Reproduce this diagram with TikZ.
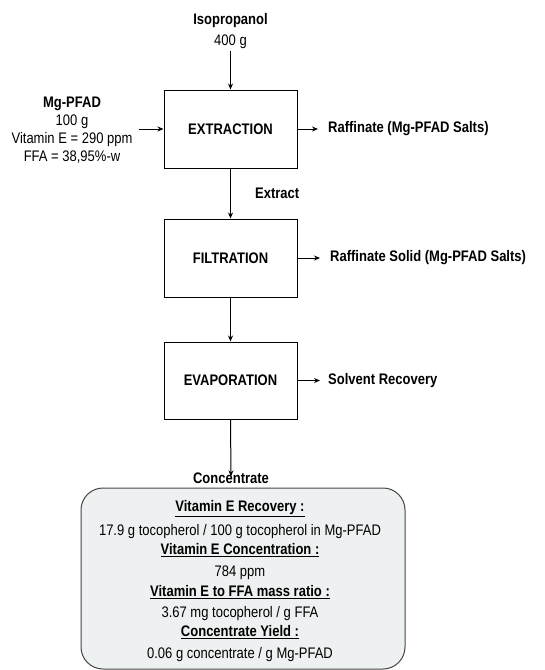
\documentclass[tikz,border=0pt]{standalone}
\usepackage{fontspec}
\setmainfont[FakeStretch=0.85]{Liberation Sans}
\usetikzlibrary{arrows.meta}
\definecolor{boxfill}{RGB}{238,241,241}
\definecolor{boxline}{RGB}{70,70,70}
\newcommand{\myfont}{\fontsize{15.3}{18}\selectfont}
\tikzset{
  base/.style={font=\myfont, inner sep=0pt},
  proc/.style={base, draw, line width=1pt, minimum width=133pt, minimum height=78pt, font=\myfont\bfseries},
  lbl/.style={base},
  blbl/.style={base, font=\myfont\bfseries},
  arr/.style={line width=1pt, -{Stealth[length=6pt,width=5pt]}},
  sumbox/.style={draw=boxline, fill=boxfill, line width=1pt, rounded corners=22pt, minimum width=324pt, minimum height=181pt, inner sep=0pt},
}
\begin{document}
\begin{tikzpicture}[x=1pt,y=-1pt]
\useasboundingbox (0,0) rectangle (545,670);
% process boxes
\node[proc] (ext) at (230.5,129) {EXTRACTION};
\node[proc] (fil) at (230.5,258) {FILTRATION};
\node[proc, minimum height=77pt] (eva) at (230.5,380.5) {EVAPORATION};
% inputs
\node[lbl, align=center, font=\fontsize{15.3}{21}\selectfont] (iso) at (230.5,31) {\textbf{Isopropanol}\\400 g};
\node[lbl, align=center] (mg) at (72,130) {\textbf{Mg-PFAD}\\100 g\\Vitamin E = 290 ppm\\FFA = 38,95\%-w};
\coordinate (isoend) at (230.5,51);
\coordinate (mgend) at (139,129);
% outputs
\node[blbl, anchor=west] (raf) at (328,129) {Raffinate (Mg-PFAD Salts)};
\node[blbl, anchor=west] (rafs) at (330,258) {Raffinate Solid (Mg-PFAD Salts)};
\node[blbl, anchor=west] (solv) at (328,380.5) {Solvent Recovery};
\node[blbl, anchor=west] (extr) at (255,193) {Extract};
\node[blbl] (conc) at (231,478) {Concentrate};
% connectors
\draw[arr] (isoend) -- (ext.north);
\draw[arr] (mgend) -- (ext.west);
\draw[arr] (ext.east) -- ([xshift=-10pt]raf.west);
\draw[arr] (ext.south) -- (fil.north);
\draw[arr] (fil.east) -- ([xshift=-10pt]rafs.west);
\draw[arr] (fil.south) -- (eva.north);
\draw[arr] (eva.east) -- ([xshift=-8pt]solv.west);
\draw[arr] (eva.south) -- ([yshift=-4pt]conc.north);
% summary box
\node[sumbox] (sum) at (243,578.5) {};
\node[blbl] (t1) at (240,509) {\underline{Vitamin E Recovery :}};
\node[lbl] (t2) at (240,532) {17.9 g tocopherol / 100 g tocopherol in Mg-PFAD};
\node[blbl] (t3) at (240,550) {\underline{Vitamin E Concentration :}};
\node[lbl] (t4) at (240,573) {784 ppm};
\node[blbl] (t5) at (240,592) {\underline{Vitamin E to FFA mass ratio :}};
\node[lbl] (t6) at (240,614) {3.67 mg tocopherol / g FFA};
\node[blbl] (t7) at (240,632) {\underline{Concentrate Yield :}};
\node[lbl] (t8) at (240,655) {0.06 g concentrate / g Mg-PFAD};
\end{tikzpicture}
\end{document}
